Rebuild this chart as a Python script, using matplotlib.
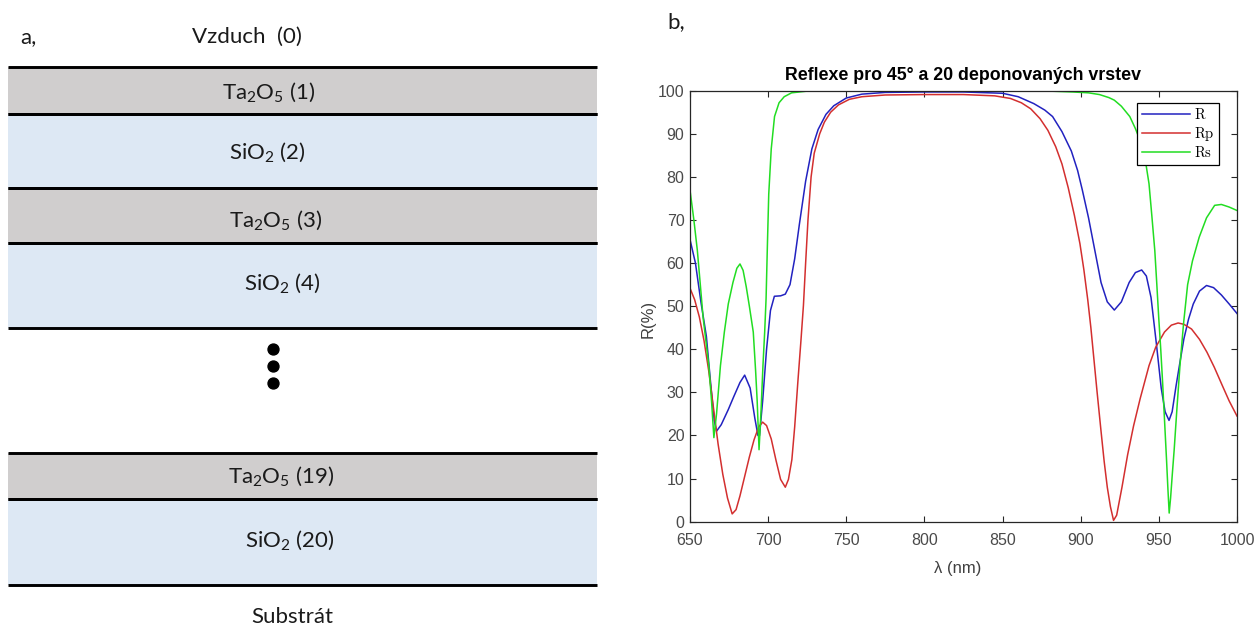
import matplotlib

matplotlib.use("Agg")
import matplotlib.pyplot as plt
from matplotlib.font_manager import FontProperties
from matplotlib.patches import Rectangle

# layer stack (panel a)
layer_labels = [
    r"Ta$_2$O$_5$ (1)",
    r"SiO$_2$ (2)",
    r"Ta$_2$O$_5$ (3)",
    r"SiO$_2$ (4)",
    r"Ta$_2$O$_5$ (19)",
    r"SiO$_2$ (20)",
]
layer_materials = ["Ta2O5", "SiO2", "Ta2O5", "SiO2", "Ta2O5", "SiO2"]
top_label = "Vzduch  (0)"
bottom_label = "Substrát"

# reflectance curves (panel b)
wl_R = [650, 653.5, 657, 660.5, 663, 665.5, 667, 670, 674.5, 678, 682, 685,
        688.5, 691.5, 693.5, 694.5, 696.5, 699, 701.5, 704, 708, 711, 714,
        717, 720, 724, 728, 732, 737, 742, 750, 760, 775, 800, 825, 850, 860,
        870, 877, 882, 888, 894, 898, 901, 905, 909, 913, 917, 921.5, 926,
        931, 935, 939, 942, 945, 948.5, 951.5, 954, 956.5, 958.5, 961, 963.5,
        966, 969, 972, 976, 980.5, 985, 990, 995, 1000]
R = [65.5, 60, 51, 43, 33, 23.5, 21, 22.5, 26, 29, 32.3, 34,
     31, 24, 20, 20, 28, 40, 49, 52.3, 52.4, 52.8, 55,
     61, 69, 79, 86.5, 91, 94.5, 96.5, 98.3, 99.2, 99.6, 99.7, 99.7, 99.4, 98.6,
     97, 95.5, 94, 90.5, 86, 81.5, 77, 70.5, 63, 55.5, 51, 49.1, 51,
     55.5, 57.8, 58.4, 57, 52, 41, 31, 25.5, 23.5, 25.5, 31.5, 37,
     42.4, 47, 50.5, 53.5, 54.8, 54.3, 52.6, 50.5, 48.3]

wl_Rp = [650, 653, 656, 659, 662, 665, 668, 671, 674, 677, 679.5, 682, 685,
         688, 691, 694, 696.5, 699, 702, 705, 708, 711, 713, 715.2, 717, 719,
         721, 722.6, 724, 725.5, 727.5, 729.5, 733, 736, 740, 745, 752, 760,
         775, 800, 825, 845, 855, 862, 868, 874, 879, 884, 888, 892, 896,
         899.5, 902, 904.5, 906.5, 908.5, 910.5, 913, 915, 917, 919, 921,
         923, 926.4, 930, 933.8, 938, 943.7, 948, 953.6, 958, 962.3, 966,
         970.9, 976, 980.8, 985.5, 990.7, 995, 1000]
Rp = [54.2, 51.5, 47.5, 42, 35, 26.5, 18, 11, 5.5, 1.8, 2.8, 6, 10.5,
      15, 19, 22, 23.1, 22.3, 19.2, 14.3, 9.8, 8, 9.8, 14.4, 22, 32.3,
      42, 50.2, 60, 70, 80, 85.5, 90, 92.7, 95, 96.7, 98, 98.6,
      99, 99.1, 99.1, 98.8, 98.2, 97.2, 95.8, 93.5, 90.8, 87, 83, 77.5, 71,
      64.5, 58.5, 51.5, 45, 37.5, 30, 21, 14, 8, 3.5, 0.3,
      1.5, 8, 15.5, 22.2, 28.5, 36.2, 40.5, 44, 45.6, 46.1, 45.8,
      44.7, 42.3, 39.3, 35.8, 31.5, 28, 24.5]

wl_Rs = [650, 652.5, 654.7, 656.5, 658.4, 660.5, 662.1, 663.8, 665.3, 667,
         669.5, 672, 674.5, 677.5, 680, 682, 684, 686, 688, 690.5, 692, 693,
         694.2, 695.5, 696.7, 697.8, 698.7, 699.6, 700.4, 702, 704.1, 707,
         710.3, 715, 725, 800, 880, 895, 905, 912, 918, 921.5, 926, 931.4,
         935, 938.8, 941.5, 943.7, 945.5, 947.4, 948.7, 949.9, 951.2, 952.4,
         953.7, 954.9, 955.8, 956.6, 957.5, 958.6, 959.8, 961.6, 963.5,
         965.8, 968.4, 971.5, 975.8, 980.5, 985.7, 990, 995, 1000]
Rs = [77, 70, 63, 55.5, 47.4, 41, 36, 28, 19.5, 25,
      36.2, 44, 50.5, 55.5, 58.8, 59.8, 58.3, 54.5, 50, 44, 35, 28,
      16.7, 26, 36.2, 44, 51.8, 65, 76, 86.5, 94, 97.2,
      98.6, 99.5, 99.9, 100, 99.9, 99.7, 99.5, 99.1, 98.4, 97.8, 96.4, 94,
      91.2, 87.7, 83.5, 78.4, 71, 62.9, 55, 47.4, 40, 32.3,
      23, 14.4, 7.5, 2, 5.5, 11, 16.7, 26.5, 36.2,
      46, 55, 60.5, 66, 70.5, 73.4, 73.6, 73, 72.2]

x_ticks = [650, 700, 750, 800, 850, 900, 950, 1000]
y_ticks = [0, 10, 20, 30, 40, 50, 60, 70, 80, 90, 100]
title = "Reflexe pro 45° a 20 deponovaných vrstev"


def draw_stack(fig):
    # overlay in pixel units, y grows downwards
    ax = fig.add_axes([0, 0, 1, 1], zorder=0)
    ax.set_xlim(0, 1257)
    ax.set_ylim(628, 0)
    ax.axis("off")

    fills = {"Ta2O5": "#d0cece", "SiO2": "#dde8f4"}
    bounds = [(67, 114), (114, 188), (188, 243), (243, 328), (453, 499), (499, 585)]
    text_xy = [(269, 92), (267, 152), (276, 220), (282, 283), (281, 476), (290, 540)]
    x0, x1 = 8, 597

    for lab, mat, (ya, yb), (tx, ty) in zip(layer_labels, layer_materials, bounds, text_xy):
        ax.add_patch(Rectangle((x0, ya), x1 - x0, yb - ya, facecolor=fills[mat],
                               edgecolor="none"))
        ax.plot([x0, x1], [ya, ya], color="black", lw=2.1, solid_capstyle="butt")
        ax.plot([x0, x1], [yb, yb], color="black", lw=2.1, solid_capstyle="butt")
        ax.text(tx, ty, lab, ha="center", va="center", fontsize=16, color="#1a1a1a")

    ax.scatter([273, 273, 273], [349, 366, 383], s=62, color="black")
    ax.text(247, 37, top_label, ha="center", va="center", fontsize=16, color="#1a1a1a")
    ax.text(292, 617, bottom_label, ha="center", va="center", fontsize=16,
            color="#1a1a1a")
    ax.text(20, 37, "a,", ha="left", va="center", fontsize=16, color="#1a1a1a")
    ax.text(667, 22, "b,", ha="left", va="center", fontsize=16, color="#1a1a1a")


def main():
    matplotlib.rc("font", family="Lato")
    matplotlib.rc("mathtext", default="regular")

    fig = plt.figure(figsize=(12.57, 6.28), dpi=100)
    draw_stack(fig)

    ax = fig.add_axes([0.5489, 0.1693, 0.4352, 0.6863], zorder=1)
    ax.plot(wl_R, R, color="#2222c0", lw=1.1, label=r"$\mathrm{R}$")
    ax.plot(wl_Rp, Rp, color="#d32f2f", lw=1.1, label=r"$\mathrm{Rp}$")
    ax.plot(wl_Rs, Rs, color="#22dd22", lw=1.1, label=r"$\mathrm{Rs}$")

    ax.set_xlim(650, 1000)
    ax.set_ylim(0, 100)
    ax.set_xticks(x_ticks)
    ax.set_yticks(y_ticks)
    ax.tick_params(direction="in", length=4, width=0.8, top=True, right=True,
                   labelsize=11.5, colors="#262626", labelcolor="#4a4a4a")
    ax.tick_params(axis="x", pad=8)
    ax.tick_params(axis="y", pad=4)
    for lbl in ax.get_xticklabels() + ax.get_yticklabels():
        lbl.set_fontfamily("Liberation Sans")
    for sp in ax.spines.values():
        sp.set_color("#262626")
        sp.set_linewidth(0.9)

    ax.set_title(title, fontfamily="Liberation Sans", fontweight="bold",
                 fontsize=12.8, pad=8)
    ax.set_xlabel("λ (nm)", fontfamily="Liberation Sans", fontsize=12, color="#404040")
    ax.set_ylabel("R(%)", fontfamily="Liberation Sans", fontsize=12, color="#404040")
    ax.xaxis.set_label_coords(0.49, -0.092)
    ax.yaxis.set_label_coords(-0.062, 0.47)

    leg_font = FontProperties(family="DejaVu Serif", size=10.5, math_fontfamily="cm")
    leg = ax.legend(loc="upper right", bbox_to_anchor=(0.967, 0.972), prop=leg_font,
                    handlelength=3.3, handletextpad=0.3, labelspacing=0.18,
                    borderpad=0.3, borderaxespad=0, fancybox=False, framealpha=1)
    leg.get_frame().set_edgecolor("black")
    leg.get_frame().set_linewidth(0.9)

    fig.savefig("out.png", dpi=100)


if __name__ == "__main__":
    main()
